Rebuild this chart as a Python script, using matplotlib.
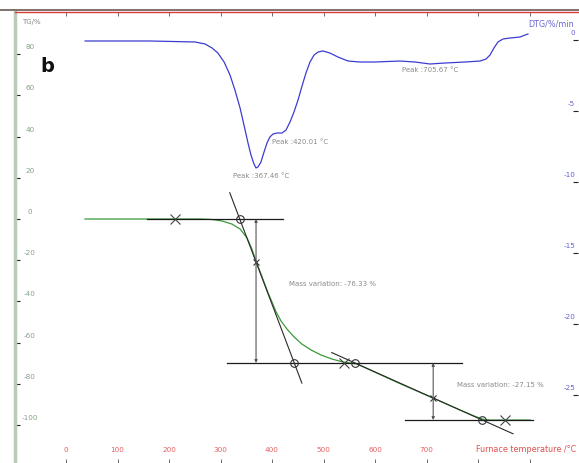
import numpy as np
import matplotlib
matplotlib.use('Agg')
import matplotlib.pyplot as plt
from matplotlib.lines import Line2D

# TG curve (%), temperature in degC
tg_temp = [37, 163, 260, 283.5, 303, 322, 338, 351.5, 361, 369, 377, 384.5, 392, 400, 408, 417.5, 429,
           443, 458, 476, 495, 516.5, 538, 565, 648.5, 712.6, 765, 794, 810, 823, 843, 901]
tg_mass = [0, 0, 0, -0.24, -0.97, -2.43, -4.85, -9.2, -14.6, -20.5, -25.6, -30.6, -35.6, -40.3, -45.1,
           -49.5, -53.4, -57.3, -60.7, -63.6, -66.0, -68.0, -69.4, -70.4, -79.9, -86.9, -92.7, -95.8,
           -97.2, -97.6, -97.6, -97.6]

# DTG curve (%/min)
dtg_temp = [37, 163, 250.5, 270, 283.5, 295, 307, 318.4, 328, 338, 345.6, 353.4, 359.2, 365, 368.9, 372.8,
            378.6, 384.5, 390.3, 396, 402, 409.7, 419.4, 427.2, 435, 442.7, 450.5, 458.3, 466, 473.8, 481.6,
            489.3, 499, 512.6, 528.2, 547.6, 571, 600, 648.5, 677.7, 706.8, 736, 774.8, 804, 815.5, 823.3,
            831, 838.8, 848.5, 862, 881.6, 891.3, 897]
dtg_rate = [-0.07, -0.07, -0.14, -0.28, -0.56, -0.92, -1.55, -2.46, -3.52, -4.79, -5.99, -7.25, -8.1, -8.73,
            -9.01, -8.94, -8.59, -7.89, -7.25, -6.83, -6.62, -6.55, -6.55, -6.34, -5.77, -5.07, -4.23, -3.24,
            -2.32, -1.55, -1.06, -0.85, -0.77, -0.92, -1.2, -1.48, -1.55, -1.55, -1.48, -1.55, -1.69, -1.62,
            -1.55, -1.48, -1.34, -1.06, -0.56, -0.14, 0.07, 0.14, 0.21, 0.35, 0.42]

# step analysis: plateau levels, inflection points and tangent slopes
levels = [0, -69.9, -97.6]
inflect_temp = [369, 713]
inflect_mass = [-20.9, -86.9]
tangent_slope = [-0.66, -0.112]
onset_marks = [212, 540, 852]
mass_labels = ['Mass variation: -76.33 %', 'Mass variation: -27.15 %']

peak_temp = [367.46, 420.01, 705.67]
x_ticks = [0, 100, 200, 300, 400, 500, 600, 700, 800, 900]
x_labels = ['0', '100', '200', '300', '400', '500', '600', '700']
tg_ticks = [80, 60, 40, 20, 0, -20, -40, -60, -80, -100]
dtg_ticks = [0, -5, -10, -15, -20, -25]

W, H = 579, 463
fig = plt.figure(figsize=(W / 100, H / 100), dpi=100)
ax = fig.add_axes([15 / W, 0, (578 - 15) / W, (H - 12) / H])
ax2 = ax.twinx()

# pixel scale: 0.515 px per degC, 2.06 px per % TG, 14.2 px per %/min DTG
ax.set_xlim((15 - 66) / 0.515, (578 - 66) / 0.515)
ax.set_ylim((219 - 463) / 2.06, (219 - 12) / 2.06)
ax2.set_ylim((40 - 463) / 14.2, (40 - 12) / 14.2)

for a in (ax, ax2):
    for s in a.spines.values():
        s.set_visible(False)
ax.spines['left'].set_visible(True)
ax.spines['left'].set_color('#b9cbb9')
ax.spines['left'].set_linewidth(2.5)
ax.spines['top'].set_visible(True)
ax.spines['top'].set_color('#d83c3c')
ax.spines['top'].set_linewidth(1.0)
fig.add_artist(Line2D([0, 1], [1 - 10 / H, 1 - 10 / H], color='#6a5a50', lw=1.2))

ax.set_xticks(x_ticks)
ax.set_yticks(tg_ticks)
ax2.set_yticks(dtg_ticks)
ax.tick_params(axis='x', which='both', top=True, bottom=True, direction='in', length=3,
               width=0.6, color='#555555', labelbottom=False, labeltop=False)
ax.tick_params(axis='y', direction='in', length=3.5, width=0.8, color='#222222', labelleft=False)
ax2.tick_params(axis='y', direction='in', length=3.5, width=0.8, color='#222222', labelright=False)

small = 5.0
tick_fs = 5.2
for v in tg_ticks:
    ax.annotate(str(v), (0, v), xycoords=('axes fraction', 'data'), xytext=(10.8, 5),
                textcoords='offset points', ha='center', va='center', fontsize=tick_fs, color='#86a086')
for v in dtg_ticks:
    ax2.annotate(str(v), (1, v), xycoords=('axes fraction', 'data'), xytext=(-2, 5),
                 textcoords='offset points', ha='right', va='center', fontsize=tick_fs, color='#6262d8')
for v, s in zip(x_ticks, x_labels):
    ax.annotate(s, (v, 0), xycoords=('data', 'axes fraction'), xytext=(0, 9.5),
                textcoords='offset points', ha='center', va='center', fontsize=tick_fs, color='#e86060')
ax.annotate('Furnace temperature /\u00b0C', (1, 0), xycoords='axes fraction', xytext=(-1.5, 9.5),
            textcoords='offset points', ha='right', va='center', fontsize=5.8, color='#e05050')
fig.text(22 / W, 1 - 22 / H, 'TG/%', fontsize=small, color='#8a8a8a', va='center')
fig.text(528 / W, 1 - 24 / H, 'DTG/%/min', fontsize=5.8, color='#6868d0', va='center')
fig.text(40 / W, 1 - 66 / H, 'b', fontsize=14, fontweight='bold', color='#111111', va='center')

# DTG and TG curves
ax2.plot(dtg_temp, dtg_rate, color='#3c3cd2', lw=0.9)
ax.plot(tg_temp, tg_mass, color='#3a9a3a', lw=0.9)

line_kw = dict(color='#1a1a1a', lw=0.9)
# plateau lines
ax.plot([157, 421], [levels[0]] * 2, **line_kw)
ax.plot([313, 769], [levels[1]] * 2, **line_kw)
ax.plot([658, 907], [levels[2]] * 2, **line_kw)

# tangents through the inflection points
tan_span = [(318, 458), (516, 868)]
for i in range(2):
    t = np.array(tan_span[i])
    m = inflect_mass[i] + tangent_slope[i] * (t - inflect_temp[i])
    ax.plot(t, m, color='#2a2a2a', lw=0.8)
    # crossings with the plateaus above and below
    for lev in (levels[i], levels[i + 1]):
        tx = inflect_temp[i] + (lev - inflect_mass[i]) / tangent_slope[i]
        ax.plot(tx, lev, 'o', ms=5.5, mfc='none', mec='#333333', mew=0.8)
    ax.plot(inflect_temp[i], inflect_mass[i], 'x', ms=5, color='#333333', mew=0.8)
    ax.annotate('', xy=(inflect_temp[i], levels[i + 1]), xytext=(inflect_temp[i], levels[i]),
                arrowprops=dict(arrowstyle='<|-|>', color='#555555', lw=0.8, mutation_scale=4,
                                shrinkA=0, shrinkB=0))

for t, lev in zip(onset_marks, levels):
    ax.plot(t, lev, 'x', ms=7, color='#444444', mew=0.8)

ax.text((289 - 66) / 0.515, (219 - 284) / 2.06, mass_labels[0],
        fontsize=small, color='#8a8a8a', va='center')
ax.text((457 - 66) / 0.515, (219 - 385) / 2.06, mass_labels[1],
        fontsize=small, color='#8a8a8a', va='center')

# peak labels
peak_rate = np.interp(peak_temp, dtg_temp, dtg_rate)
ax2.annotate('Peak :%.2f \u00b0C' % peak_temp[0], (peak_temp[0], peak_rate[0]), xytext=(4.5, -6.5),
             textcoords='offset points', ha='center', va='center', fontsize=small, color='#8a8a8a')
ax2.annotate('Peak :%.2f \u00b0C' % peak_temp[1], (peak_temp[1], peak_rate[1]), xytext=(12.5, -6.5),
             textcoords='offset points', ha='center', va='center', fontsize=small, color='#8a8a8a')
ax2.annotate('Peak :%.2f \u00b0C' % peak_temp[2], (peak_temp[2], peak_rate[2]), xytext=(0.5, -4.5),
             textcoords='offset points', ha='center', va='center', fontsize=small, color='#8a8a8a')

fig.savefig('out.png', dpi=100)
